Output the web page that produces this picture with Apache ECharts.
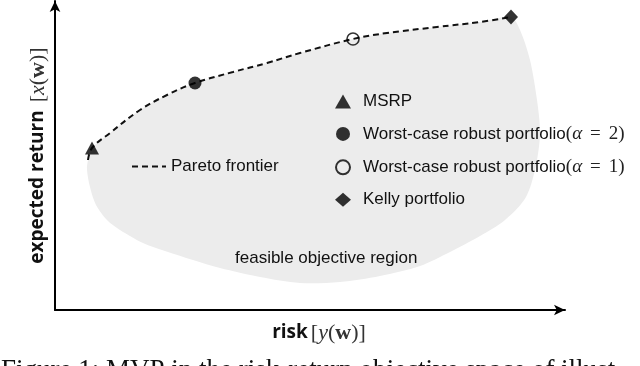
<!DOCTYPE html>
<html><head><meta charset="utf-8">
<script src="https://cdn.jsdelivr.net/npm/echarts@6/dist/echarts.min.js"></script>
<style>html,body{margin:0;padding:0;background:#fff}#c{width:640px;height:366px}</style>
</head><body><div id="c"></div>
<script>
// Pareto frontier (risk, expected return) in abstract units
const frontierX = [33, 37, 55, 85, 112, 140, 178, 212, 245, 298, 332, 382, 425, 456];
const frontierY = [150, 162, 177, 200, 215, 227, 238, 247, 257, 271, 277, 283, 288, 293];
// Remaining boundary of the feasible objective region (from Kelly point round to MSRP)
const regionX = [465, 475, 482, 485, 481, 471, 450, 425, 395, 365, 325, 285, 245, 205, 165, 138, 110, 88, 65, 52, 41, 35, 32];
const regionY = [280, 250, 210, 177, 145, 113, 90, 74, 58, 44, 34, 28, 27, 33, 42, 50, 59, 67, 80, 90, 105, 123, 140];
// Highlighted portfolios
const msrp = [37, 162];
const robust2 = [140, 227];
const robust1 = [298, 271];
const kelly = [456, 293];

const names = ['MSRP', 'Worst-case robust portfolio (α = 2)', 'Worst-case robust portfolio (α = 1)', 'Kelly portfolio'];

const frontier = frontierX.map((x, i) => [x, frontierY[i]]);
const region = frontier.concat(regionX.map((x, i) => [x, regionY[i]]));

const chart = echarts.init(document.getElementById('c'), null, {renderer: 'canvas'});
const sans = '"Liberation Sans", Arial, sans-serif';
const serif = '"Liberation Serif", "Times New Roman", serif';

const axisCommon = {
  type: 'value',
  axisLine: {show: true, symbol: ['none', 'arrow'], symbolSize: [8, 11], lineStyle: {color: '#000', width: 2}},
  axisTick: {show: false}, axisLabel: {show: false}, splitLine: {show: false}
};
const nameRich = {
  b: {fontFamily: '"Open Sans", sans-serif', fontWeight: 'bold', fontSize: 19, color: '#111'},
  m: {fontFamily: serif, fontSize: 22, color: '#333'},
  i: {fontFamily: serif, fontStyle: 'italic', fontSize: 22, color: '#333'},
  w: {fontFamily: serif, fontWeight: 'bold', fontSize: 22, color: '#333'},
  s: {width: 8},
  t: {width: 3},
  p: {width: 18}
};

chart.setOption({
  animation: false,
  backgroundColor: '#fff',
  grid: {left: 55, right: 75, top: 1, bottom: 56},
  xAxis: Object.assign({}, axisCommon, {
    min: 0, max: 510,
    name: '{p|}{b|risk}{t|}{m|[}{i|y}{m|(}{w|w}{m|)]}',
    nameLocation: 'middle', nameGap: 12,
    nameTextStyle: {rich: nameRich}
  }),
  yAxis: Object.assign({}, axisCommon, {
    min: 0, max: 309,
    name: '{b|expected return}{s|}{m|[}{i|x}{m|(}{w|w}{m|)]}',
    nameLocation: 'middle', nameGap: 6, nameRotate: 90,
    nameTextStyle: {rich: nameRich}
  }),
  legend: [
    {
      data: ['Pareto frontier'], left: 126, top: 153, itemWidth: 34, itemHeight: 14,
      itemStyle: {color: 'rgba(0,0,0,0)', borderWidth: 0},
      textStyle: {fontFamily: sans, fontSize: 17, color: '#111'}
    },
    {
      data: names, orient: 'vertical', left: 330, top: 88, itemGap: 14.4, itemWidth: 16, itemHeight: 14,
      textStyle: {fontFamily: sans, fontSize: 17, color: '#111', rich: {
        s: {width: 7},
        m: {fontFamily: serif, fontSize: 19, color: '#222'},
        i: {fontFamily: serif, fontStyle: 'italic', fontSize: 19, color: '#222'},
        g: {width: 8}
      }},
      formatter: function (n) {
        const m = n.match(/^(.*) \(α = (\d)\)$/);
        if (!m) return '{s|}' + n;
        return '{s|}' + m[1] + '{m|(}{i|α}{g|}{m|=}{g|}{m|' + m[2] + ')}';
      }
    }
  ],
  graphic: [
    {type: 'text', left: 235, top: 250, z: 50, style: {text: 'feasible objective region', font: '17px ' + sans, fill: '#111'}},
    {type: 'text', left: 1, top: 357, z: 50, style: {text: 'Figure 1: MVP in the risk-return objective space of illust', font: '27px ' + serif, fill: '#111'}}
  ],
  series: [
    {
      type: 'custom', name: 'region', silent: true, z: 1,
      data: [0],
      renderItem: function (params, api) {
        return {type: 'polygon', shape: {points: region.map(p => api.coord(p)), smooth: 0.3},
          style: {fill: '#ececec', stroke: 'none'}};
      }
    },
    {
      type: 'line', name: 'Pareto frontier', data: frontier, smooth: 0.4, showSymbol: false, symbol: 'none', z: 3,
      lineStyle: {color: '#111', width: 2, type: [6, 4]}, itemStyle: {color: '#111'}
    },
    {type: 'scatter', name: names[0], data: [msrp], symbol: 'triangle', symbolSize: [14, 13], z: 4, itemStyle: {color: '#000'}},
    {type: 'scatter', name: names[1], data: [robust2], symbol: 'circle', symbolSize: 13, z: 4, itemStyle: {color: '#000'}},
    {type: 'scatter', name: names[2], data: [robust1], symbol: 'circle', symbolSize: 12, z: 4,
      itemStyle: {color: 'rgba(0,0,0,0)', borderColor: '#000', borderWidth: 1.6}},
    {type: 'scatter', name: names[3], data: [kelly], symbol: 'diamond', symbolSize: [14, 15], z: 4, itemStyle: {color: '#000'}}
  ]
});
</script></body></html>
